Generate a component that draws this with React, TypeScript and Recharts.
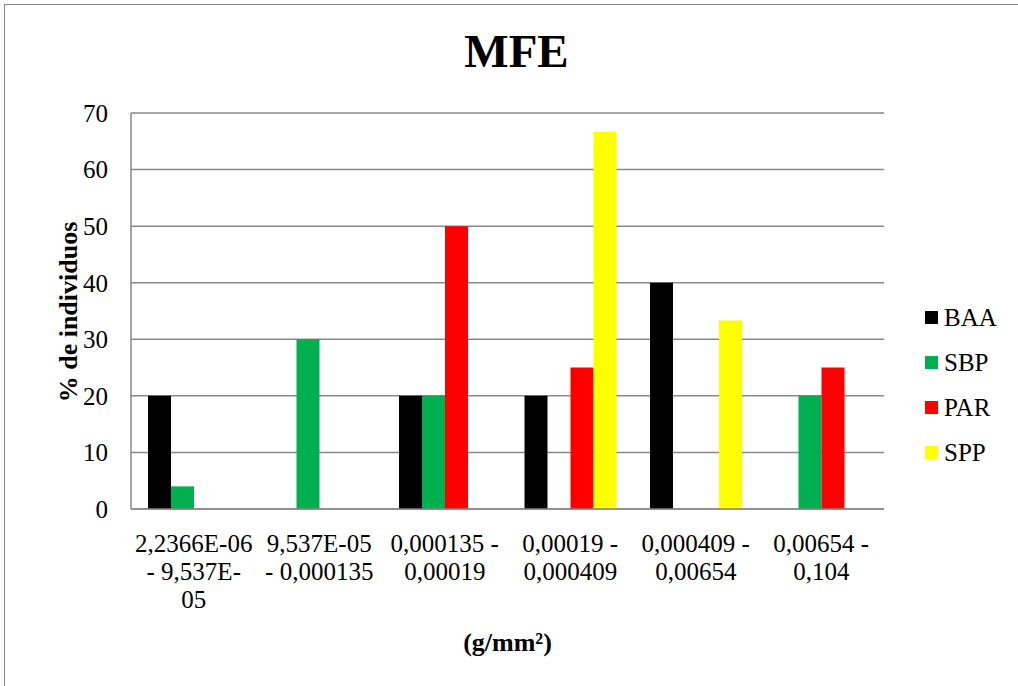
import { BarChart, Bar, XAxis, YAxis, CartesianGrid, Legend } from 'recharts';

const categories = [
  '2,2366E-06 - 9,537E-05',
  '9,537E-05 - 0,000135',
  '0,000135 - 0,00019',
  '0,00019 - 0,000409',
  '0,000409 - 0,00654',
  '0,00654 - 0,104',
];

// how Excel wrapped each category label
const tickLines = [
  ['2,2366E-06', '- 9,537E-', '05'],
  ['9,537E-05', '- 0,000135'],
  ['0,000135 -', '0,00019'],
  ['0,00019 -', '0,000409'],
  ['0,000409 -', '0,00654'],
  ['0,00654 -', '0,104'],
];

const baa = [20, 0, 20, 20, 40, 0];
const sbp = [4, 30, 20, 0, 0, 20];
const par = [0, 0, 50, 25, 0, 25];
const spp = [0, 0, 0, 66.67, 33.33, 0];

const yTicks = [0, 10, 20, 30, 40, 50, 60, 70];

const series = [
  { key: 'BAA', color: '#000000' },
  { key: 'SBP', color: '#00B050' },
  { key: 'PAR', color: '#FF0000' },
  { key: 'SPP', color: '#FFFF00' },
];

const data = categories.map((name, i) => ({
  name,
  BAA: baa[i],
  SBP: sbp[i],
  PAR: par[i],
  SPP: spp[i],
}));

const FONT = '"Liberation Serif", "Times New Roman", serif';
const GRID = '#898989';

function CategoryTick(props: any) {
  const { x, y, payload } = props;
  const idx = categories.indexOf(payload.value);
  const lines = tickLines[idx] || [payload.value];
  return (
    <text x={x} y={y} textAnchor="middle" fontFamily={FONT} fontSize={25} fill="#000">
      {lines.map((l, i) => (
        <tspan key={i} x={x} dy={i === 0 ? 41 : 28}>
          {l}
        </tspan>
      ))}
    </text>
  );
}

function LegendBox() {
  return (
    <div style={{ fontFamily: FONT, fontSize: 25, color: '#000' }}>
      {series.map((s) => (
        <div key={s.key} style={{ display: 'flex', alignItems: 'center', height: 45 }}>
          <span style={{ width: 13, height: 13, background: s.color, display: 'inline-block', marginRight: 6 }} />
          <span>{s.key}</span>
        </div>
      ))}
    </div>
  );
}

export default function App() {
  return (
    <div style={{ position: 'fixed', left: 0, top: 0, width: 1018, height: 686, background: '#fff', overflow: 'hidden' }}>
      <div
        style={{
          position: 'absolute',
          left: 4,
          top: 4,
          width: 1200,
          height: 900,
          border: '1px solid #868686',
        }}
      />
      <div
        style={{
          position: 'absolute',
          left: 0,
          width: 1033,
          top: 24,
          textAlign: 'center',
          fontFamily: FONT,
          fontWeight: 'bold',
          fontSize: 47,
          color: '#000',
        }}
      >
        MFE
      </div>
      <div style={{ position: 'absolute', left: 0, top: 0 }}>
        <BarChart
          width={1018}
          height={686}
          data={data}
          margin={{ top: 113, right: 134, left: 0, bottom: 57 }}
          barCategoryGap={17}
          barGap={0}
        >
          <CartesianGrid vertical={false} stroke={GRID} strokeWidth={1.5} />
          <XAxis
            dataKey="name"
            height={120}
            interval={0}
            tickLine={false}
            tickSize={0}
            stroke={GRID}
            strokeWidth={1.5}
            tick={<CategoryTick />}
            label={(p: any) => {
              const vb = p.viewBox;
              return (
                <text
                  x={vb.x + vb.width / 2}
                  y={651}
                  textAnchor="middle"
                  fontFamily={FONT}
                  fontWeight="bold"
                  fontSize={26}
                  fill="#000"
                >
                  (g/mm²)
                </text>
              );
            }}
          />
          <YAxis
            width={131}
            domain={[0, 70]}
            ticks={yTicks}
            tickLine={false}
            tickSize={0}
            tickMargin={23}
            stroke={GRID}
            strokeWidth={1.5}
            tick={{ fontFamily: FONT, fontSize: 25, fill: '#000' }}
            label={() => (
              <text
                x={77}
                y={312}
                transform="rotate(-90 77 312)"
                textAnchor="middle"
                fontFamily={FONT}
                fontWeight="bold"
                fontSize={26}
                fill="#000"
              >
                % de individuos
              </text>
            )}
          />
          <Legend
            layout="horizontal"
            verticalAlign="middle"
            align="center"
            content={<LegendBox />}
            wrapperStyle={{ position: 'absolute', left: 925, top: 295, width: 90 }}
          />
          {series.map((s) => (
            <Bar key={s.key} dataKey={s.key} fill={s.color} isAnimationActive={false} />
          ))}
        </BarChart>
      </div>
    </div>
  );
}
